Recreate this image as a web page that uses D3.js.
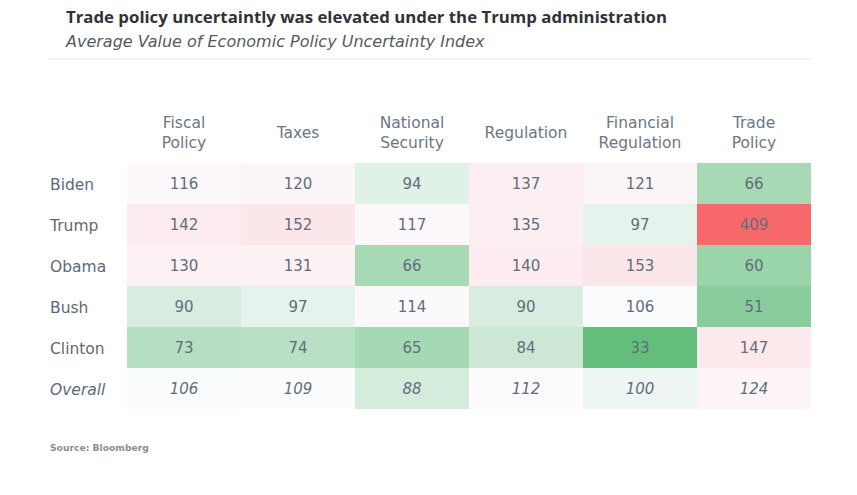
<!DOCTYPE html>
<html><head><meta charset="utf-8">
<script src="https://cdn.jsdelivr.net/npm/d3@7"></script>
<style>
body{margin:0;background:#fff;}
svg{display:block;font-family:"DejaVu Sans",sans-serif;}
</style></head>
<body><svg id="c" width="857" height="495"></svg>
<script>
const title = "Trade policy uncertaintly was elevated under the Trump administration";
const subtitle = "Average Value of Economic Policy Uncertainty Index";
const source = "Source: Bloomberg";
const columns = [["Fiscal","Policy"],["Taxes"],["National","Security"],["Regulation"],["Financial","Regulation"],["Trade","Policy"]];
const rows = ["Biden","Trump","Obama","Bush","Clinton","Overall"];
const biden   = [116,120,94,137,121,66];
const trump   = [142,152,117,135,97,409];
const obama   = [130,131,66,140,153,60];
const bush    = [90,97,114,90,106,51];
const clinton = [73,74,65,84,33,147];
const overall = [106,109,88,112,100,124];
const values = [biden,trump,obama,bush,clinton,overall];

const svg = d3.select("#c");
const x = d3.scaleBand().domain(d3.range(columns.length)).range([127,811]).padding(0);
const y = d3.scaleBand().domain(rows).range([163,409]).padding(0);

const flat = values.flat();
const color = d3.scaleLinear()
  .domain([d3.min(flat), d3.median(flat), d3.max(flat)])
  .range(["#63BE7B","#FCFCFF","#F8696B"]);

// title
svg.append("text").attr("x",66).attr("y",23).attr("font-family","'Open Sans',sans-serif")
  .attr("font-weight",700).attr("font-size",16.8)
  .attr("fill","#2f3337").text(title);
svg.append("text").attr("x",66).attr("y",47).attr("font-style","italic").attr("font-size",16)
  .attr("fill","#55595e").text(subtitle);
svg.append("line").attr("x1",48).attr("x2",811).attr("y1",59).attr("y2",59)
  .attr("stroke","#eeeeee").attr("stroke-width",1.5);

// headers
const hdr = svg.append("g");
columns.forEach((lines,i)=>{
  const cx = x(i)+x.bandwidth()/2;
  const t = hdr.append("text").attr("text-anchor","middle").attr("font-size",15.5).attr("fill","#6b7785");
  const y0 = lines.length===2 ? 128 : 138;
  lines.forEach((l,j)=>t.append("tspan").attr("x",cx).attr("y",y0+j*20).text(l));
});

// cells
const cells = [];
values.forEach((arr,r)=>arr.forEach((v,c)=>cells.push({r:rows[r],c,v,italic:rows[r]==="Overall"})));
const g = svg.append("g");
g.selectAll("rect").data(cells).join("rect")
  .attr("x",d=>x(d.c)).attr("y",d=>y(d.r))
  .attr("width",x.bandwidth()).attr("height",y.bandwidth())
  .attr("fill",d=>color(d.v));
g.selectAll("text").data(cells).join("text")
  .attr("x",d=>x(d.c)+x.bandwidth()/2).attr("y",d=>y(d.r)+y.bandwidth()/2+5.5)
  .attr("text-anchor","middle").attr("font-size",15).attr("fill","#626d7b")
  .attr("font-style",d=>d.italic?"italic":null)
  .text(d=>d.v);

// row labels
svg.append("g").selectAll("text").data(rows).join("text")
  .attr("x",50).attr("y",d=>y(d)+y.bandwidth()/2+6)
  .attr("font-size",15.5).attr("fill","#5d6a78")
  .attr("font-style",d=>d==="Overall"?"italic":null)
  .text(d=>d);

svg.append("text").attr("x",50).attr("y",451).attr("font-size",9.2).attr("font-weight",700)
  .attr("fill","#8a8d91").text(source);
</script></body></html>
